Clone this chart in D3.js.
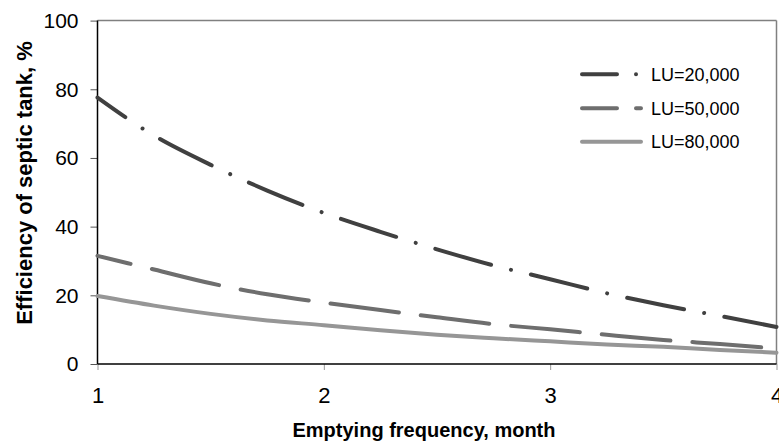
<!DOCTYPE html>
<html lang="en">
<head>
    <meta charset="UTF-8">
    <title>Septic tank efficiency</title>
    <style>
        html,body{
            margin: 0;
            padding: 0;
            background: #fff;
        }
        text{
            font-family: "Liberation Sans", Arial, sans-serif;
        }
    </style>
</head>
<body>
<div id="container"></div>

<script src="https://d3js.org/d3.v7.min.js"></script>
<script>
    // values
    const months = [1, 1.25, 1.5, 1.75, 2, 2.25, 2.5, 2.75, 3, 3.25, 3.5, 3.75, 4]
    const lu20000 = [77.6, 66.5, 58, 50.5, 44, 38.5, 33.4, 28.7, 24.7, 20.6, 17.1, 14, 10.8]
    const lu50000 = [31.5, 27.5, 23.5, 20.3, 17.9, 15.7, 13.6, 11.6, 10.1, 8.5, 7.0, 5.8, 4.5]
    const lu80000 = [19.8, 17, 14.6, 12.7, 11.3, 9.8, 8.5, 7.5, 6.6, 5.7, 5.0, 4.1, 3.3]
    const seriesNames = ['LU=20,000', 'LU=50,000', 'LU=80,000']
    const xTicks = [1, 2, 3, 4]
    const yTicks = [0, 20, 40, 60, 80, 100]

    const [width, height] = [779, 445]
    const plotL = 97.5, plotR = 776.5, plotT = 20.6, plotB = 364

    const svg = d3.select('#container').append('svg')
        .attr('width', width)
        .attr('height', height)

    const x = d3.scaleLinear().domain([1, 4]).range([plotL, plotR])
    const y = d3.scaleLinear().domain([0, 100]).range([plotB, plotT])

    // frame: top and right are grey, axes black
    svg.append('line').attr('x1', plotL).attr('x2', plotR).attr('y1', plotT).attr('y2', plotT)
        .attr('stroke', '#808080').attr('stroke-width', 1.5)
    svg.append('line').attr('x1', plotR).attr('x2', plotR).attr('y1', plotT).attr('y2', plotB)
        .attr('stroke', '#808080').attr('stroke-width', 1.5)

    const yAxis = svg.append('g')
        .attr('transform', `translate(${plotL},0)`)
        .call(d3.axisLeft(y).tickValues(yTicks).tickSize(7).tickPadding(12).tickFormat(d3.format('d')))
    yAxis.select('.domain').remove()
    yAxis.selectAll('.tick line').attr('stroke', '#555')
    yAxis.selectAll('text').attr('font-size', 21).attr('fill', '#000')

    const xAxis = svg.append('g')
        .attr('transform', `translate(0,${plotB})`)
        .call(d3.axisBottom(x).tickValues(xTicks).tickSize(6).tickPadding(17).tickFormat(d3.format('d')))
    xAxis.select('.domain').remove()
    xAxis.selectAll('.tick line').attr('stroke', '#999')
    xAxis.selectAll('text').attr('font-size', 22).attr('fill', '#000')

    svg.append('line').attr('x1', plotL).attr('x2', plotL).attr('y1', plotT).attr('y2', plotB)
        .attr('stroke', '#000').attr('stroke-width', 1.5)
    svg.append('line').attr('x1', plotL).attr('x2', plotR).attr('y1', plotB).attr('y2', plotB)
        .attr('stroke', '#000').attr('stroke-width', 1.5)

    // series
    const styles = [
        {color: '#404040', dash: '58 20.5 0.01 20.5', offset: 24},
        {color: '#6e6e6e', dash: '69 22', offset: 35},
        {color: '#969696', dash: null, offset: 0}
    ]
    const allValues = [lu20000, lu50000, lu80000]

    const line = d3.line()
        .x(d => x(d[0]))
        .y(d => y(d[1]))
        .curve(d3.curveMonotoneX)

    allValues.forEach((vals, i) => {
        const pts = months.map((m, k) => [m, vals[k]])
        svg.append('path')
            .attr('d', line(pts))
            .attr('fill', 'none')
            .attr('stroke', styles[i].color)
            .attr('stroke-width', 4)
            .attr('stroke-linecap', 'round')
            .attr('stroke-dasharray', styles[i].dash)
            .attr('stroke-dashoffset', styles[i].offset)
    })

    // legend
    const legendDash = ['35 19 0.01 60', '35 19 6 60', null]
    const legendY = [74.3, 108.3, 141.7]
    seriesNames.forEach((name, i) => {
        svg.append('line')
            .attr('x1', 582).attr('x2', 641)
            .attr('y1', legendY[i]).attr('y2', legendY[i])
            .attr('stroke', styles[i].color)
            .attr('stroke-width', 4)
            .attr('stroke-linecap', 'round')
            .attr('stroke-dasharray', legendDash[i])
        svg.append('text')
            .attr('x', 651).attr('y', legendY[i])
            .attr('dy', '0.36em')
            .attr('font-size', 18)
            .text(name)
    })

    // axis titles
    svg.append('text')
        .attr('x', 424).attr('y', 437)
        .attr('text-anchor', 'middle')
        .attr('font-size', 20)
        .attr('font-weight', 'bold')
        .text('Emptying frequency, month')

    svg.append('text')
        .attr('transform', 'translate(32,183) rotate(-90)')
        .attr('text-anchor', 'middle')
        .attr('font-size', 22)
        .attr('font-weight', 'bold')
        .text('Efficiency of septic tank, %')
</script>
</body>
</html>
